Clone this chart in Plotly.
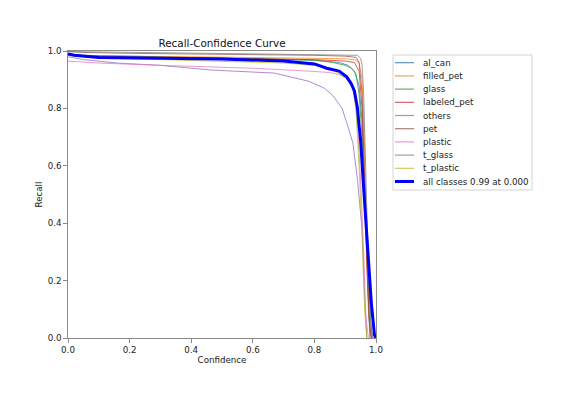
import plotly.graph_objects as go

# ---------------- data ----------------
class_names = ["al_can", "filled_pet", "glass", "labeled_pet", "others",
               "pet", "plastic", "t_glass", "t_plastic"]

al_can_x = [0, 0.05, 0.2, 0.4, 0.6, 0.8, 0.88, 0.91, 0.93, 0.945, 0.955, 0.965, 0.975, 0.985, 0.99]
al_can_y = [0.99, 0.985, 0.982, 0.978, 0.974, 0.968, 0.96, 0.95, 0.93, 0.88, 0.75, 0.5, 0.2, 0.03, 0]

filled_pet_x = [0, 0.05, 0.2, 0.4, 0.6, 0.8, 0.9, 0.93, 0.945, 0.955, 0.962, 0.968, 0.975, 0.985]
filled_pet_y = [0.985, 0.984, 0.982, 0.98, 0.978, 0.976, 0.973, 0.97, 0.96, 0.9, 0.7, 0.4, 0.1, 0]

glass_x = [0, 0.05, 0.2, 0.4, 0.6, 0.8, 0.86, 0.9, 0.92, 0.935, 0.945, 0.955, 0.965, 0.975, 0.98]
glass_y = [0.99, 0.984, 0.98, 0.977, 0.974, 0.968, 0.96, 0.95, 0.94, 0.92, 0.85, 0.7, 0.4, 0.1, 0]

labeled_pet_x = [0, 0.05, 0.2, 0.4, 0.6, 0.8, 0.9, 0.93, 0.945, 0.955, 0.96, 0.965, 0.972, 0.98, 0.985]
labeled_pet_y = [0.985, 0.982, 0.979, 0.976, 0.974, 0.97, 0.965, 0.96, 0.93, 0.8, 0.62, 0.45, 0.2, 0.03, 0]

others_x = [0, 0.05, 0.16, 0.3, 0.46, 0.6, 0.67, 0.78, 0.83, 0.86, 0.89, 0.905, 0.925, 0.94, 0.955, 0.963, 0.97]
others_y = [0.98, 0.97, 0.958, 0.95, 0.934, 0.928, 0.923, 0.895, 0.872, 0.845, 0.8, 0.75, 0.68, 0.55, 0.376, 0.15, 0]

pet_x = [0, 0.05, 0.2, 0.4, 0.6, 0.8, 0.9, 0.935, 0.945, 0.955, 0.962, 0.97, 0.978, 0.985]
pet_y = [0.998, 0.995, 0.992, 0.99, 0.988, 0.985, 0.982, 0.978, 0.96, 0.85, 0.6, 0.3, 0.06, 0]

plastic_x = [0, 0.1, 0.3, 0.45, 0.6, 0.78, 0.85, 0.88, 0.9, 0.92, 0.93, 0.94, 0.95, 0.96, 0.967, 0.975]
plastic_y = [0.965, 0.958, 0.95, 0.946, 0.94, 0.93, 0.925, 0.918, 0.91, 0.895, 0.85, 0.75, 0.55, 0.3, 0.08, 0]

t_glass_x = [0, 0.1, 0.3, 0.6, 0.8, 0.9, 0.94, 0.95, 0.955, 0.96, 0.966, 0.974, 0.982, 0.988]
t_glass_y = [0.998, 0.996, 0.994, 0.99, 0.988, 0.987, 0.985, 0.975, 0.95, 0.85, 0.6, 0.3, 0.06, 0]

t_plastic_x = [0, 0.1, 0.3, 0.5, 0.7, 0.8, 0.85, 0.87, 0.9, 0.915, 0.925, 0.935, 0.945, 0.955, 0.963, 0.97]
t_plastic_y = [0.985, 0.975, 0.97, 0.965, 0.958, 0.95, 0.94, 0.927, 0.906, 0.888, 0.87, 0.8, 0.6, 0.35, 0.1, 0]

all_x = [0, 0.02, 0.1, 0.3, 0.5, 0.7, 0.8, 0.84, 0.88, 0.905, 0.92, 0.93, 0.94, 0.945, 0.95, 0.96, 0.971, 0.985, 0.995, 1.0]
all_y = [0.99, 0.985, 0.977, 0.975, 0.972, 0.965, 0.955, 0.94, 0.93, 0.91, 0.885, 0.86, 0.8, 0.74, 0.69, 0.52, 0.34, 0.12, 0.01, 0]
all_label = "all classes 0.99 at 0.000"

xs = [al_can_x, filled_pet_x, glass_x, labeled_pet_x, others_x, pet_x, plastic_x, t_glass_x, t_plastic_x]
ys = [al_can_y, filled_pet_y, glass_y, labeled_pet_y, others_y, pet_y, plastic_y, t_glass_y, t_plastic_y]

x_ticks = [0.0, 0.2, 0.4, 0.6, 0.8, 1.0]
y_ticks = [0.0, 0.2, 0.4, 0.6, 0.8, 1.0]

# ---------------- styling ----------------
colors = ["#1f77b4", "#ff7f0e", "#2ca02c", "#d62728", "#9467bd",
          "#8c564b", "#e377c2", "#7f7f7f", "#bcbd22"]
FONT = "DejaVu Sans"
W, H = 563, 399
OFF = 8  # page body margin
L, R, T, B = 68 - OFF, 376 - OFF, 51 - OFF, 338 - OFF
spine = "#8a8a8a"

fig = go.Figure()
for name, x, y, c in zip(class_names, xs, ys, colors):
    fig.add_trace(go.Scatter(x=x, y=y, mode="lines", name=name, showlegend=False,
                             line=dict(color=c, width=1), opacity=0.75))
fig.add_trace(go.Scatter(x=all_x, y=all_y, mode="lines", name=all_label, showlegend=False,
                         line=dict(color="#0000ff", width=3)))

def px2x(px):
    return (px - OFF - L) / (R - L)

def py2y(py):
    return (B - (py - OFF)) / (B - T)

shapes = []
annotations = []
shapes.append(dict(type="rect", xref="paper", yref="paper",
                   x0=px2x(393), x1=px2x(532), y0=py2y(190), y1=py2y(55),
                   line=dict(color="#d4d4d4", width=1), fillcolor="white", layer="above"))
labels = class_names + [all_label]
lcolors = colors + ["#0000ff"]
for i, (lab, c) in enumerate(zip(labels, lcolors)):
    yc = 62.7 + i * 13.2
    shapes.append(dict(type="line", xref="paper", yref="paper",
                       x0=px2x(395), x1=px2x(414), y0=py2y(yc), y1=py2y(yc),
                       line=dict(color=c, width=3 if i == 9 else 1.2),
                       opacity=1 if i == 9 else 0.75, layer="above"))
    annotations.append(dict(xref="paper", yref="paper", x=px2x(421), y=py2y(yc),
                            text=lab, showarrow=False, xanchor="left", yanchor="middle",
                            font=dict(family=FONT, size=8.7, color="#222")))

fig.update_layout(
    width=W, height=H,
    margin=dict(l=L, r=W - R, t=T, b=H - B),
    paper_bgcolor="white", plot_bgcolor="white",
    font=dict(family=FONT, size=8.7, color="#222"),
    title=dict(text="Recall-Confidence Curve", x=(222 - OFF) / W,
               xanchor="center", y=1 - (43 - OFF) / H, yanchor="middle", yref="container",
               font=dict(family=FONT, size=10.4, color="#111")),
    shapes=shapes, annotations=annotations,
    showlegend=False,
)
fig.update_xaxes(range=[0, 1], tickvals=x_ticks, ticktext=[f"{v:.1f}" for v in x_ticks],
                 showgrid=False, zeroline=False, showline=True, linecolor=spine, linewidth=1.3,
                 mirror=True, ticks="outside", ticklen=3.5, tickcolor=spine,
                 title=dict(text="Confidence", standoff=1, font=dict(size=8.7)))
fig.update_yaxes(range=[0, 1], tickvals=y_ticks, ticktext=[f"{v:.1f}" for v in y_ticks],
                 showgrid=False, zeroline=False, showline=True, linecolor=spine, linewidth=1.3,
                 mirror=True, ticks="outside", ticklen=3.5, tickcolor=spine,
                 title=dict(text="Recall", standoff=3, font=dict(size=8.7)))

fig.write_html("out.html")
